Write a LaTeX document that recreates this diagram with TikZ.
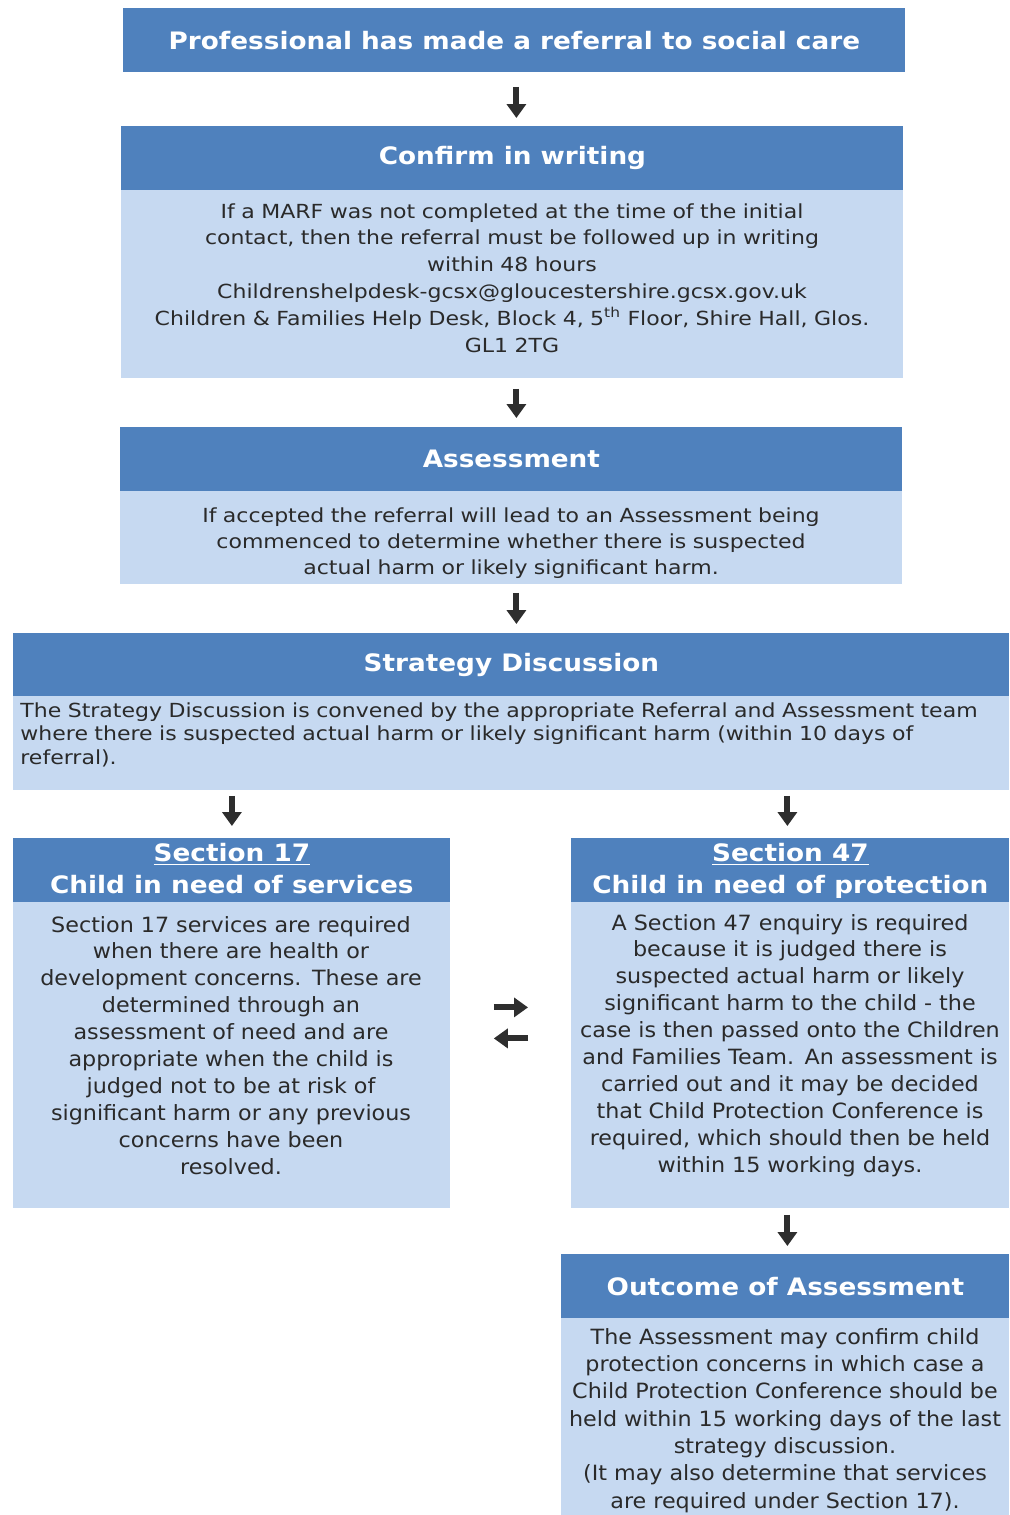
\documentclass[tikz,border=0pt]{standalone}
\usepackage{fontspec}
\setmainfont{DejaVu Sans}
\newfontfamily\upfont{DejaVu Sans}[FakeStretch=1.135]
\newfontfamily\lowfont{DejaVu Sans}[FakeStretch=1.06]
\newfontfamily\hdfont{DejaVu Sans}[FakeStretch=1.095]
\usetikzlibrary{arrows.meta}
\definecolor{hdrc}{HTML}{4F81BD}
\definecolor{bdyc}{HTML}{C6D9F1}
\definecolor{txtc}{HTML}{2A2A2A}
\definecolor{arrc}{HTML}{2E2E2E}
\tikzset{
  hdrbox/.style={fill=hdrc, draw=none, inner sep=0pt, anchor=north west, text=white,
    font=\hdfont\bfseries\fontsize{12}{16}\selectfont, align=center},
  bdybox/.style={fill=bdyc, draw=none, inner sep=0pt, anchor=north west},
  bodytext/.style={text=txtc, inner sep=0pt, anchor=base, align=center},
  upbody/.style={font=\upfont\fontsize{9.7}{13.4}\selectfont},
  lowbody/.style={font=\lowfont\fontsize{10.5}{13.45}\selectfont},
  flowarrow/.style={draw=arrc, line width=3pt, -{Triangle[length=7pt,width=9.5pt]}},
}
\begin{document}
\begin{tikzpicture}[x=0.5pt,y=-0.5pt]
\useasboundingbox[fill=white] (0,0) rectangle (1009,1515);
% box 1
\node[hdrbox, minimum width=391pt, minimum height=32pt] (h1) at (123,8) {Professional has made a referral to social care};
% box 2
\node[hdrbox, minimum width=391pt, minimum height=32pt] (h2) at (121,126) {Confirm in writing};
\node[bdybox, minimum width=391pt, minimum height=94pt] (b2) at (121,190) {};
\node[bodytext, upbody, text width=391pt] (t2) at (512,218)
 {If a MARF was not completed at the time of the initial\\contact, then the referral must be followed up in writing\\within 48 hours\\Childrenshelpdesk-gcsx@gloucestershire.gcsx.gov.uk\\Children \& Families Help Desk, Block 4, 5\textsuperscript{th} Floor, Shire Hall, Glos.\\GL1 2TG};
% box 3
\node[hdrbox, minimum width=391pt, minimum height=32pt] (h3) at (120,427) {Assessment};
\node[bdybox, minimum width=391pt, minimum height=46.5pt] (b3) at (120,491) {};
\node[bodytext, text width=391pt, font=\upfont\fontsize{9.7}{13}\selectfont] (t3) at (511,522)
 {If accepted the referral will lead to an Assessment being\\commenced to determine whether there is suspected\\actual harm or likely significant harm.};
% box 4
\node[hdrbox, minimum width=498pt, minimum height=31.5pt] (h4) at (13,633) {Strategy Discussion};
\node[bdybox, minimum width=498pt, minimum height=47pt] (b4) at (13,696) {};
\node[bodytext, anchor=base west, align=left, text width=494pt, font=\upfont\fontsize{9.7}{11.75}\selectfont] (t4) at (20,717)
 {The Strategy Discussion is convened by the appropriate Referral and Assessment team\\where there is suspected actual harm or likely significant harm (within 10 days of\\referral).};
% box 5
\node[hdrbox, minimum width=218.5pt, minimum height=32pt] (h5) at (13,838) {\underline{Section 17}\\Child in need of services\vphantom{p}};
\node[bdybox, minimum width=218.5pt, minimum height=153pt] (b5) at (13,902) {};
\node[bodytext, lowbody, text width=218.5pt] (t5) at (231,932)
 {Section 17 services are required\\when there are health or\\development concerns. These are\\determined through an\\assessment of need and are\\appropriate when the child is\\judged not to be at risk of\\significant harm or any previous\\concerns have been\\resolved.};
% box 6
\node[hdrbox, minimum width=219pt, minimum height=32pt] (h6) at (571,838) {\underline{Section 47}\\Child in need of protection};
\node[bdybox, minimum width=219pt, minimum height=153pt] (b6) at (571,902) {};
\node[bodytext, lowbody, text width=219pt] (t6) at (790,930)
 {A Section 47 enquiry is required\\because it is judged there is\\suspected actual harm or likely\\significant harm to the child - the\\case is then passed onto the Children\\and Families Team. An assessment is\\carried out and it may be decided\\that Child Protection Conference is\\required, which should then be held\\within 15 working days.};
% box 7
\node[hdrbox, minimum width=224pt, minimum height=32pt] (h7) at (561,1254) {Outcome of Assessment};
\node[bdybox, minimum width=224pt, minimum height=98.5pt] (b7) at (561,1318) {};
\node[bodytext, text width=224pt, font=\lowfont\fontsize{10.5}{13.67}\selectfont] (t7) at (785,1344)
 {The Assessment may confirm child\\protection concerns in which case a\\Child Protection Conference should be\\held within 15 working days of the last\\strategy discussion.\\(It may also determine that services\\are required under Section 17).};
% arrows
\draw[flowarrow, shorten <=7pt, shorten >=4pt] ([xshift=1pt]h1.south) -- ([xshift=1pt]h1.south |- h2.north);
\draw[flowarrow, shorten <=5pt, shorten >=4.5pt] ([xshift=1pt]h1.south |- b2.south) -- ([xshift=1pt]h1.south |- h3.north);
\draw[flowarrow, shorten <=4pt, shorten >=4.5pt] ([xshift=1pt]h1.south |- b3.south) -- ([xshift=1pt]h1.south |- h4.north);
\draw[flowarrow, shorten <=2.5pt, shorten >=6pt] (h5.north |- b4.south) -- (h5.north);
\draw[flowarrow, shorten <=2.5pt, shorten >=6pt] ([xshift=-1.5pt]h6.north |- b4.south) -- ([xshift=-1.5pt]h6.north);
\draw[flowarrow, shorten <=21.5pt, shorten >=21.5pt] ([yshift=24pt]b5.east) -- ([yshift=24pt]b5.east -| b6.west);
\draw[flowarrow, shorten <=21.5pt, shorten >=21.5pt] ([yshift=8.5pt]b5.east -| b6.west) -- ([yshift=8.5pt]b5.east);
\draw[flowarrow, shorten <=3pt, shorten >=4pt] ([xshift=1pt]h7.north |- b6.south) -- ([xshift=1pt]h7.north);
\end{tikzpicture}
\end{document}
